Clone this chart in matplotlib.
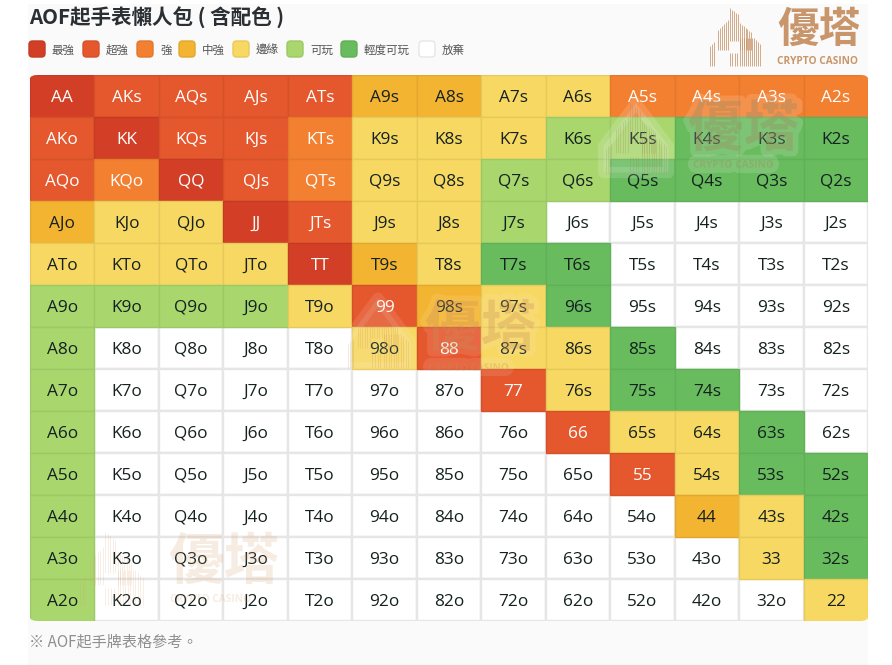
import matplotlib
matplotlib.use("Agg")
import matplotlib.pyplot as plt
import matplotlib.patheffects as pe
from matplotlib.patches import Rectangle, FancyBboxPatch, Polygon
from matplotlib.colors import to_rgb

CJK = ['Noto Sans CJK TC', 'DejaVu Sans']
LAT = ['Open Sans', 'Noto Sans CJK TC', 'DejaVu Sans']
plt.rcParams['font.family'] = LAT

W, H = 892, 665
ranks = ['A', 'K', 'Q', 'J', 'T', '9', '8', '7', '6', '5', '4', '3', '2']
legend_labels = ['最強', '超強', '強', '中強', '邊緣', '可玩', '輕度可玩', '放棄']
legend_colors = ['#d23f26', '#e5572d', '#f38030', '#f3b431', '#f7d862', '#a9d76e', '#68bc5e', '#ffffff']
title = 'AOF起手表懶人包 ( 含配色 )'
footnote = '※ AOF起手牌表格參考。'

# strength level of each hand, rows/columns in rank order
levels = [
    [0, 1, 1, 1, 1, 3, 3, 4, 4, 2, 2, 2, 2],
    [1, 0, 1, 1, 2, 4, 4, 4, 5, 5, 6, 6, 6],
    [1, 2, 0, 1, 2, 4, 4, 5, 5, 6, 6, 6, 6],
    [3, 4, 4, 0, 1, 4, 4, 5, 7, 7, 7, 7, 7],
    [4, 4, 4, 4, 0, 3, 4, 6, 6, 7, 7, 7, 7],
    [5, 5, 5, 5, 4, 1, 3, 4, 6, 7, 7, 7, 7],
    [5, 7, 7, 7, 7, 4, 1, 4, 4, 6, 7, 7, 7],
    [5, 7, 7, 7, 7, 7, 7, 1, 4, 6, 6, 7, 7],
    [5, 7, 7, 7, 7, 7, 7, 7, 1, 4, 4, 6, 7],
    [5, 7, 7, 7, 7, 7, 7, 7, 7, 1, 4, 6, 6],
    [5, 7, 7, 7, 7, 7, 7, 7, 7, 7, 3, 4, 6],
    [5, 7, 7, 7, 7, 7, 7, 7, 7, 7, 7, 4, 6],
    [5, 7, 7, 7, 7, 7, 7, 7, 7, 7, 7, 7, 4],
]

def hand_label(r, c):
    if r == c:
        return ranks[r] * 2
    if c > r:
        return ranks[r] + ranks[c] + 's'
    return ranks[c] + ranks[r] + 'o'

def shade(col, f=0.93):
    return tuple(v * f for v in to_rgb(col))

fig = plt.figure(figsize=(W / 100, H / 100), dpi=100, facecolor='white')

# page layer in pixel coordinates
pg = fig.add_axes([0, 0, 1, 1], zorder=0)
pg.set_xlim(0, W); pg.set_ylim(H, 0); pg.axis('off')
pg.add_patch(Rectangle((28, 4), 840, H, fc='#fafafa', ec='none'))

pg.text(29, 17.5, title, family=CJK, fontsize=14.8,
        fontweight='bold', color='#2a2f33', va='center', ha='left')

leg_x = [29, 83, 137, 179, 233, 287, 341, 419]
for x, lab, col in zip(leg_x, legend_labels, legend_colors):
    pg.add_patch(FancyBboxPatch((x + 3, 44), 10, 10, boxstyle='round,pad=3,rounding_size=3.5',
                                fc=col, ec='#e6e6e6' if col == '#ffffff' else shade(col), lw=1))
    pg.text(x + 23, 50, lab, family=CJK, fontsize=8.3, color='#555555', va='center', ha='left')

pg.text(29, 642, footnote, family=CJK, fontsize=10.9, color='#8f8f8f', va='center', ha='left')

# decorative logo mark: groups of bars (x0, x1, top at x0, top at x1, bottom) in logo units
tower = [
    (0, 4, 38, 34, 58), (8, 18, 22, 12, 42), (20, 28, 0, 6, 33),
    (20, 27, 45, 45, 58), (30, 41, 15, 24, 42), (30, 34, 30, 30, 58),
    (36, 42, 30, 30, 58), (44, 50, 30, 36, 58),
]

def building(ax, x0, y0, s, color, alpha, lw):
    for a, b, ta, tb, bot in tower:
        n = int((b - a) / 1.8) + 1
        for i in range(n):
            f = i / max(n - 1, 1)
            x = x0 + (a + (b - a) * f) * s
            ax.plot([x, x], [y0 + (ta + (tb - ta) * f) * s, y0 + bot * s], color=color, alpha=alpha,
                    lw=lw, solid_capstyle='butt')

def brand(ax, bx, by, tx, ty, cap_x, cap_y, s, fs, capfs, color, alpha, lw, halo=0.0):
    if halo:
        ax.add_patch(Polygon([(bx + 25 * s, by), (bx + 52 * s, by + 36 * s), (bx + 52 * s, by + 58 * s),
                              (bx - 2 * s, by + 58 * s), (bx - 2 * s, by + 36 * s)],
                             closed=True, fc='white', ec='white', alpha=halo, lw=8, joinstyle='round'))
    building(ax, bx, by, s, color, alpha, lw)
    effects = [pe.withStroke(linewidth=8, foreground='white', alpha=halo)] if halo else []
    ax.text(tx, ty, '優塔', family=CJK, fontsize=fs, fontweight='bold', color=color, alpha=alpha,
            va='center', ha='left', path_effects=effects)
    ax.text(cap_x, cap_y, 'CRYPTO CASINO', fontsize=capfs, fontweight='bold', color=color, alpha=alpha,
            va='center', ha='left', path_effects=effects)

brand(pg, 710, 8, 777, 30, 777, 61.5, 1.0, 30, 7.3, '#c8966a', 1.0, 0.55)

# hand grid
ax = fig.add_axes([30 / W, 1 - 621 / H, 838 / W, 546 / H], zorder=1)
ax.set_xlim(0, 13); ax.set_ylim(13, 0); ax.axis('off')
clip = FancyBboxPatch((0, 0), 13, 13, boxstyle='round,pad=0,rounding_size=0.14',
                      mutation_aspect=546 / 838, transform=ax.transData, fc='none', ec='none')
ax.add_patch(clip)
for r, row in enumerate(levels):
    for c, lv in enumerate(row):
        col = legend_colors[lv]
        if lv == 7:
            rect = Rectangle((c, r), 1, 1, fc=col, ec='#e6e6e6', lw=1.7, zorder=1)
        else:
            rect = Rectangle((c, r), 1, 1, fc=col, ec=shade(col), lw=1.0, zorder=2)
        ax.add_patch(rect)
        rect.set_clip_path(clip)
        ax.text(c + .5, r + .64, hand_label(r, c), fontsize=12.4, ha='center', va='baseline', zorder=5,
                color='white' if lv <= 2 else '#14211f')

# translucent watermarks over the grid
wm = fig.add_axes([0, 0, 1, 1], zorder=2)
wm.set_xlim(0, W); wm.set_ylim(H, 0); wm.axis('off'); wm.patch.set_alpha(0)
brand(wm, 606, 103, 688, 130, 693, 165, 1.2, 40, 7.3, '#9a8a5a', 0.28, 0.6, halo=0.14)
brand(wm, 348, 298, 425, 330, 428, 368, 1.2, 40, 7.3, '#c98a55', 0.22, 0.6, halo=0.10)
brand(wm, 80, 532, 168, 563, 170, 600, 1.25, 40, 7.3, '#d8a070', 0.20, 0.6)

fig.savefig('out.png', dpi=100)
